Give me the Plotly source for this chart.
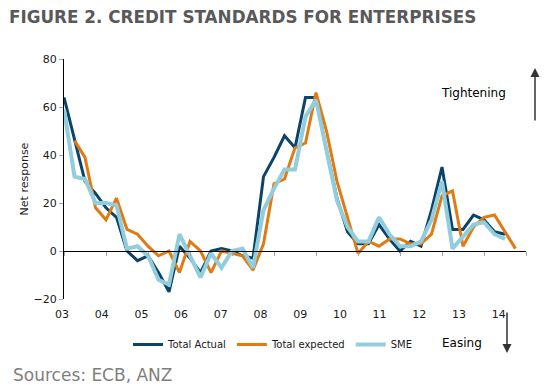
import plotly.graph_objects as go

# Quarterly data, 2003Q1 .. 2013Q4
start_year = 2003
total_actual = [64, 47, 29, 24, 18, 14, 0, -4, -2, -9, -17, 2, -3, -9, 0, 1, 0, -2, -3, 31,
                39, 48, 43, 64, 64, 42, 22, 8, 3, 3, 11, 5, 0, 4, 2, 17, 35, 9, 9, 15,
                13, 8, 7, None]
total_expected = [None, 46, 39, 18, 13, 22, 9, 7, 2, -2, 0, -9, 4, 0, -9, 0, -1, -2, -8, 3,
                  28, 30, 43, 45, 66, 50, 29, 14, -1, 4, 2, 5, 5, 3, 3, 7, 23, 25, 2, 10,
                  14, 15, 8, 1]
sme = [59, 31, 30, 20, 20, 19, 1, 2, -2, -12, -14, 7, -2, -11, -1, -7, 0, 1, -7, 17,
       26, 34, 34, 56, 63, 42, 21, 10, 4, 4, 14, 7, 2, 2, 4, 13, 29, 1, 6, 11,
       12, 7, 5, None]
year_labels = ["03", "04", "05", "06", "07", "08", "09", "10", "11", "12", "13", "14"]

x = [start_year + i * 0.25 for i in range(len(total_actual))]

FONT = "DejaVu Sans"
fig = go.Figure()
series = [
    ("Total Actual", total_actual, "#0B4468", 3),
    ("Total expected", total_expected, "#E27A12", 3),
    ("SME", sme, "#92CDDD", 4),
]
for name, vals, color, w in series:
    fig.add_trace(go.Scatter(x=x, y=vals, name=name, mode="lines",
                             line=dict(color=color, width=w), connectgaps=False))

# invisible trace to activate label axis
fig.add_trace(go.Scatter(x=[0], y=[None], xaxis="x2", showlegend=False, hoverinfo="skip"))

# page has an 8px body margin; figure is sized to fill the rest
OFF = 8
W, H = 551 - OFF, 392 - OFF
PW, PH = 462, 240
L, T = 64 - OFF, 59 - OFF
R, B = W - L - PW, H - T - PH

fig.update_layout(
    width=W, height=H,
    margin=dict(l=L, r=R, t=T, b=B, autoexpand=False),
    paper_bgcolor="white", plot_bgcolor="white",
    font=dict(family=FONT, size=11, color="#1a1a1a"),
    xaxis=dict(range=[2003, 2014], anchor="free", position=0.2, automargin=False,
               showline=True, linecolor="black", linewidth=1,
               ticks="outside", ticklen=4, tickcolor="#a6a6a6",
               tickvals=[2003 + k for k in range(12)],
               showticklabels=False, showgrid=False, zeroline=False),
    xaxis2=dict(overlaying="x", anchor="y", side="bottom", automargin=False,
                range=[0, 11.637], tickvals=list(range(12)), ticktext=year_labels,
                ticklabelshift=-2, ticklabelstandoff=7,
                showline=False, ticks="", showgrid=False, zeroline=False,
                tickfont=dict(family=FONT, size=11, color="#1a1a1a")),
    yaxis=dict(range=[-20, 80], dtick=20, showline=True, linecolor="black", linewidth=1,
               automargin=False,
               ticks="outside", ticklen=4, tickcolor="#a6a6a6",
               showgrid=False, zeroline=False,
               tickfont=dict(family=FONT, size=11, color="#1a1a1a"),
               title=dict(text="Net response", font=dict(family=FONT, size=11, color="#1a1a1a"),
                          standoff=2)),
    legend=dict(orientation="h", x=(128 - 64) / PW, xanchor="left",
                y=(299 - 330) / PH, yanchor="top",
                font=dict(family=FONT, size=10, color="#1a1a1a"),
                bgcolor="rgba(0,0,0,0)", itemwidth=30, tracegroupgap=0),
    showlegend=True,
)

def px_x(p):
    return (p - 64) / PW

def px_y(p):
    return (299 - p) / PH

fig.add_annotation(text="<b>FIGURE 2. CREDIT STANDARDS FOR ENTERPRISES</b>",
                   x=px_x(7), y=px_y(17), xref="paper", yref="paper",
                   xanchor="left", yanchor="middle", showarrow=False,
                   font=dict(family=FONT, size=16.8, color="#595959"))
fig.add_annotation(text="Tightening", x=px_x(473), y=px_y(93), xref="paper", yref="paper",
                   xanchor="center", yanchor="middle",
                   showarrow=False, font=dict(family=FONT, size=12, color="black"))
fig.add_annotation(text="Easing", x=px_x(462), y=px_y(343), xref="paper", yref="paper",
                   xanchor="center", yanchor="middle",
                   showarrow=False, font=dict(family=FONT, size=12, color="black"))
fig.add_annotation(text="", x=px_x(535), y=px_y(68), xref="paper", yref="paper",
                   showarrow=True, ax=0, ay=54, arrowhead=2, arrowsize=1.2,
                   arrowwidth=1.5, arrowcolor="#333333")
fig.add_annotation(text="", x=px_x(507), y=px_y(353), xref="paper", yref="paper",
                   showarrow=True, ax=0, ay=-42, arrowhead=2, arrowsize=1.2,
                   arrowwidth=1.5, arrowcolor="#333333")
fig.add_annotation(text="Sources: ECB, ANZ", x=px_x(11), y=px_y(375),
                   xref="paper", yref="paper", xanchor="left", yanchor="middle",
                   showarrow=False, font=dict(family=FONT, size=17, color="#7f7f7f"))

fig.write_html("out.html")
